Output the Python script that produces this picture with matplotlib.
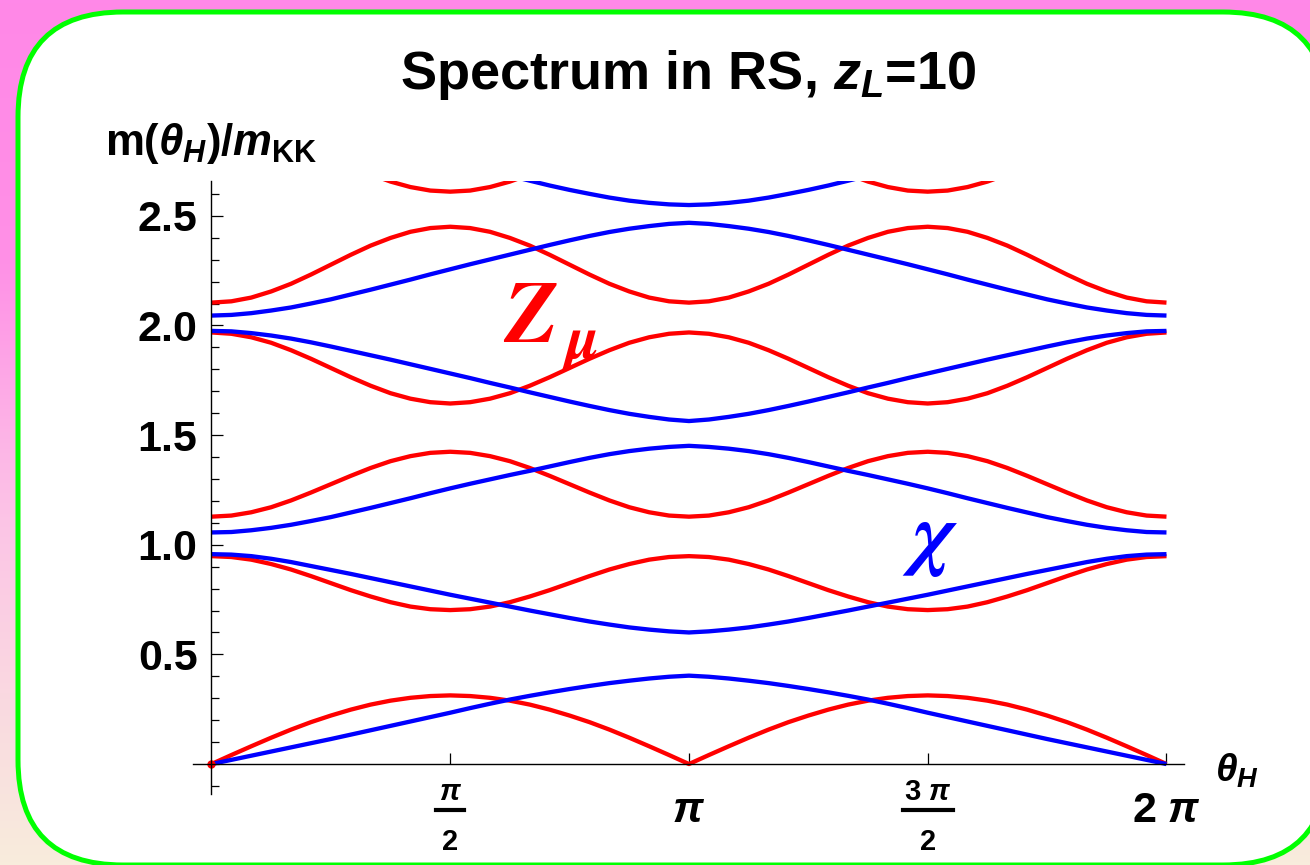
import numpy as np
import matplotlib.pyplot as plt
from matplotlib.patches import FancyBboxPatch
from matplotlib.lines import Line2D
from matplotlib.colors import LinearSegmentedColormap

plt.rcParams['font.family'] = 'Liberation Sans'
plt.rcParams['font.weight'] = 'bold'
plt.rcParams['mathtext.fontset'] = 'custom'
plt.rcParams['mathtext.rm'] = 'Liberation Sans:bold'
plt.rcParams['mathtext.it'] = 'Liberation Sans:italic:bold'
plt.rcParams['mathtext.bf'] = 'Liberation Sans:bold'

# theta_H from 0 to pi in steps of pi/24; spectrum is symmetric about pi
theta_half = np.linspace(0, np.pi, 25)
theta = np.concatenate([theta_half, 2 * np.pi - theta_half[-2::-1]])

# Z tower (red), m/m_KK on 0..pi
z1 = [0.000, 0.041, 0.081, 0.120, 0.157, 0.191, 0.221, 0.248, 0.271, 0.289, 0.302, 0.310, 0.313,
      0.310, 0.302, 0.289, 0.271, 0.248, 0.221, 0.191, 0.157, 0.120, 0.081, 0.041, 0.000]
z2 = [0.948, 0.944, 0.932, 0.912, 0.887, 0.857, 0.825, 0.793, 0.764, 0.738, 0.718, 0.706, 0.702,
      0.706, 0.718, 0.738, 0.764, 0.793, 0.825, 0.857, 0.887, 0.912, 0.932, 0.944, 0.948]
z3 = [1.128, 1.133, 1.148, 1.171, 1.202, 1.238, 1.276, 1.314, 1.350, 1.381, 1.404, 1.419, 1.424,
      1.419, 1.404, 1.381, 1.350, 1.314, 1.276, 1.238, 1.202, 1.171, 1.148, 1.133, 1.128]
z4 = [1.968, 1.962, 1.946, 1.921, 1.887, 1.848, 1.806, 1.764, 1.725, 1.691, 1.666, 1.650, 1.644,
      1.650, 1.666, 1.691, 1.725, 1.764, 1.806, 1.848, 1.887, 1.921, 1.946, 1.962, 1.968]
z5 = [2.104, 2.110, 2.127, 2.155, 2.190, 2.232, 2.277, 2.322, 2.364, 2.399, 2.427, 2.444, 2.450,
      2.444, 2.427, 2.399, 2.364, 2.322, 2.277, 2.232, 2.190, 2.155, 2.127, 2.110, 2.104]
z6 = [2.924, 2.919, 2.903, 2.878, 2.846, 2.808, 2.767, 2.726, 2.689, 2.656, 2.631, 2.615, 2.610,
      2.615, 2.631, 2.656, 2.689, 2.726, 2.767, 2.808, 2.846, 2.878, 2.903, 2.919, 2.924]

# chi tower (blue), m/m_KK on 0..pi
c1 = [0.000, 0.019, 0.038, 0.057, 0.076, 0.095, 0.114, 0.134, 0.154, 0.174, 0.194, 0.214, 0.234,
      0.255, 0.275, 0.294, 0.311, 0.327, 0.342, 0.356, 0.369, 0.380, 0.390, 0.398, 0.403]
c2 = [0.957, 0.955, 0.948, 0.936, 0.921, 0.903, 0.885, 0.867, 0.848, 0.829, 0.810, 0.791, 0.772,
      0.754, 0.736, 0.718, 0.700, 0.683, 0.666, 0.650, 0.636, 0.623, 0.613, 0.605, 0.600]
c3 = [1.056, 1.058, 1.066, 1.077, 1.091, 1.108, 1.126, 1.147, 1.168, 1.190, 1.212, 1.235, 1.257,
      1.278, 1.298, 1.318, 1.337, 1.357, 1.377, 1.396, 1.413, 1.427, 1.438, 1.446, 1.451]
c4 = [1.975, 1.973, 1.965, 1.954, 1.940, 1.923, 1.904, 1.884, 1.864, 1.844, 1.823, 1.802, 1.781,
      1.760, 1.738, 1.717, 1.695, 1.674, 1.653, 1.633, 1.614, 1.597, 1.583, 1.571, 1.564]
c5 = [2.045, 2.048, 2.056, 2.068, 2.082, 2.100, 2.119, 2.141, 2.163, 2.186, 2.209, 2.233, 2.256,
      2.279, 2.301, 2.323, 2.345, 2.367, 2.388, 2.408, 2.426, 2.441, 2.453, 2.463, 2.468]
c6 = [2.975, 2.972, 2.962, 2.949, 2.934, 2.915, 2.894, 2.872, 2.850, 2.827, 2.803, 2.779, 2.755,
      2.730, 2.706, 2.683, 2.660, 2.638, 2.618, 2.600, 2.583, 2.569, 2.559, 2.552, 2.549]

z_modes = [z1, z2, z3, z4, z5, z6]
chi_modes = [c1, c2, c3, c4, c5, c6]

yticks = [0.5, 1.0, 1.5, 2.0, 2.5]
yticklabels = ['0.5', '1.0', '1.5', '2.0', '2.5']
xticks = [np.pi / 2, np.pi, 3 * np.pi / 2, 2 * np.pi]
# (numerator, denominator, half bar width in px) for fraction ticks, None for plain ones
xtick_fracs = [(r'$\pi$', '2', 14), None, (r'3 $\pi$', '2', 25), None]
xticklabels = ['', r'$\pi$', '', r'2 $\pi$']


def mirror(v):
    return list(v) + list(v[-2::-1])


W, H = 1310, 865
fig = plt.figure(figsize=(W / 100, H / 100), dpi=100)

# backdrop: pink-to-peach gradient and a rounded white panel
bg = fig.add_axes([0, 0, 1, 1])
bg.set_xlim(0, W)
bg.set_ylim(H, 0)
bg.axis('off')
grad = LinearSegmentedColormap.from_list(
    'bg', [(0.0, '#ff88e8'), (0.3, '#ff90e6'), (0.6, '#fcc4e6'), (1.0, '#f8ecdc')])
bg.imshow(np.linspace(0, 1, 256)[:, None], cmap=grad, aspect='auto',
          extent=[0, W, H, 0])
panel = FancyBboxPatch((18, 12), 1310, 853, boxstyle='round,pad=0,rounding_size=105',
                       fc='white', ec='#00ff00', lw=3.6)
bg.add_patch(panel)

ax = fig.add_axes([0.1475, 0.0825, 0.7565, 0.7086])
ax.patch.set_alpha(0)
for v in z_modes:
    ax.plot(theta, mirror(v), color='#ff0000', lw=3.1, solid_capstyle='butt')
for v in chi_modes:
    ax.plot(theta, mirror(v), color='#0000ff', lw=3.1, solid_capstyle='butt')
ax.plot([0], [0], 'o', color='#ff0000', ms=5, clip_on=False)

ax.set_xlim(-0.12, 6.40)
ax.set_ylim(-0.135, 2.66)

for s in ['top', 'right']:
    ax.spines[s].set_visible(False)
ax.spines['left'].set_position(('data', 0))
ax.spines['bottom'].set_position(('data', 0))
ax.spines['left'].set_linewidth(1.0)
ax.spines['bottom'].set_linewidth(1.0)

ax.set_yticks(yticks)
ax.set_yticklabels(yticklabels)
ax.set_yticks(np.arange(-0.1, 2.65, 0.1), minor=True)
ax.tick_params(axis='y', which='major', direction='in', length=8.5, width=0.9,
               labelsize=31, pad=10)
ax.tick_params(axis='y', which='minor', direction='in', length=5.5, width=0.9)

ax.set_xticks(xticks)
ax.set_xticklabels(xticklabels)
ax.tick_params(axis='x', which='major', direction='in', length=8, width=0.9,
               labelsize=31, pad=34)
for lab in ax.get_xticklabels():
    lab.set_verticalalignment('center')

# stacked fractions under pi/2 and 3pi/2
for t, frac in zip(xticks, xtick_fracs):
    if frac is None:
        continue
    num, den, half = frac
    px, py = ax.transData.transform((t, 0))
    fig.text(px / W, (py - 36) / H, num, ha='center', va='baseline', fontsize=21)
    fig.text(px / W, (py - 86) / H, den, ha='center', va='baseline', fontsize=21)
    fig.add_artist(Line2D([(px - half) / W, (px + half) / W], [(py - 46) / H] * 2,
                          color='black', lw=3.0, transform=fig.transFigure))

fig.text(688 / W, 1 - 75 / H, r'Spectrum in RS, $z_L$=10', ha='center', va='center',
         fontsize=39)
fig.text(105 / W, 1 - 143 / H, r'$\mathrm{m}(\theta_H)/m_\mathrm{KK}$', ha='left',
         va='center', fontsize=31.5)
fig.text(1215 / W, 1 - 771 / H, r'$\theta_H$', ha='left', va='center', fontsize=28)

# band labels
lab_font = dict(family='STIXGeneral', weight='bold', style='italic', ha='left', va='baseline')
fig.text(504 / W, 1 - 342 / H, 'Z', color='#ff0000', fontsize=63, **lab_font)
fig.text(566 / W, 1 - 358 / H, 'μ', color='#ff0000', fontsize=44, **lab_font)
fig.text(913 / W, 1 - 560 / H, 'χ', color='#0000ff', fontsize=60, **lab_font)

fig.savefig('out.png', dpi=100)
